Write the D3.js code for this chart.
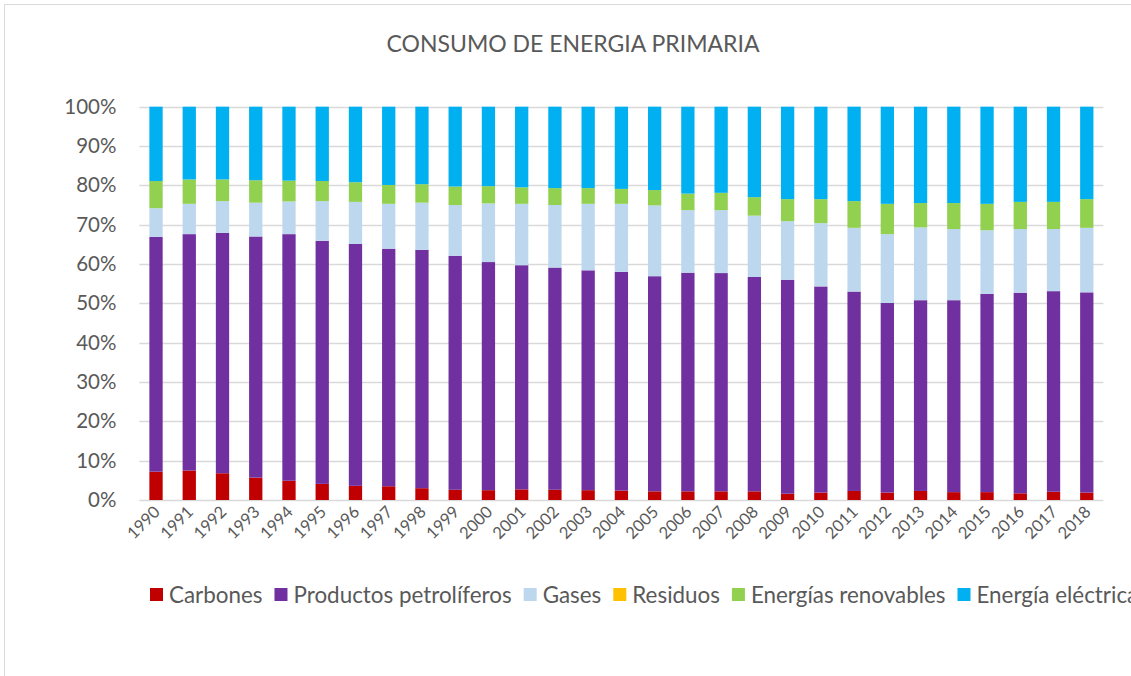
<!DOCTYPE html>
<html>
<head>
<meta charset="utf-8">
<script src="https://cdn.jsdelivr.net/npm/d3@7"></script>
<style>
  html, body { margin: 0; padding: 0; background: #fff; overflow: hidden; }
  svg { display: block; }
  text { font-family: Lato, "Open Sans", sans-serif; fill: #595959; }
</style>
</head>
<body>
<svg id="chart" width="1131" height="676"></svg>
<script>
const years = ["1990","1991","1992","1993","1994","1995","1996","1997","1998","1999",
  "2000","2001","2002","2003","2004","2005","2006","2007","2008","2009",
  "2010","2011","2012","2013","2014","2015","2016","2017","2018"];

const seriesNames = ["Carbones","Productos petrolíferos","Gases","Residuos","Energías renovables","Energía eléctrica"];
const seriesColors = ["#C00000","#7030A0","#BDD7EE","#FFC000","#92D050","#00B0F0"];

const carbones = [7.2,7.5,6.8,5.7,4.9,4.1,3.6,3.5,3.0,2.6,2.5,2.7,2.6,2.5,2.4,2.2,2.2,2.2,2.2,1.6,1.9,2.3,1.9,2.3,2.0,2.0,1.7,2.1,1.9];
const petroliferos = [59.7,60.1,61.1,61.3,62.7,61.8,61.5,60.4,60.6,59.5,58.0,57.0,56.5,55.9,55.6,54.7,55.6,55.5,54.5,54.4,52.4,50.7,48.2,48.5,48.8,50.4,51.0,51.0,50.9];
const gases = [7.3,7.7,8.1,8.6,8.3,10.1,10.7,11.4,12.0,12.9,14.9,15.6,15.9,16.9,17.3,18.0,15.9,16.0,15.6,14.9,16.1,16.2,17.5,18.5,18.1,16.2,16.2,15.8,16.4];
const residuos = [0,0,0,0,0,0,0,0,0,0,0,0,0,0,0,0,0,0,0,0,0,0,0,0,0,0,0,0,0];
const renovables = [6.9,6.2,5.5,5.7,5.3,5.1,5.0,4.8,4.7,4.7,4.4,4.2,4.3,4.0,3.8,3.9,4.2,4.4,4.7,5.6,6.1,6.8,7.7,6.2,6.6,6.7,6.9,6.9,7.3];
const electrica = [18.9,18.5,18.5,18.7,18.8,18.9,19.2,19.9,19.7,20.3,20.2,20.5,20.7,20.7,20.9,21.2,22.1,21.9,23.0,23.5,23.5,24.0,24.7,24.5,24.5,24.7,24.2,24.2,23.5];

const yTicks = [0,10,20,30,40,50,60,70,80,90,100];
const title = "CONSUMO DE ENERGIA PRIMARIA";

const seriesValues = [carbones, petroliferos, gases, residuos, renovables, electrica];
const table = years.map((yr, i) => {
  const row = { year: yr };
  const total = d3.sum(seriesValues, s => s[i]);
  seriesNames.forEach((n, k) => row[n] = seriesValues[k][i] / total * 100);
  return row;
});

const svg = d3.select("#chart");

// chart frame
svg.append("rect")
  .attr("x", 4.5).attr("y", 4.5)
  .attr("width", 1140).attr("height", 690)
  .attr("fill", "#fff").attr("stroke", "#D9D9D9").attr("stroke-width", 1);

const plotLeft = 139.4, plotRight = 1103.4, plotTop = 106.7, plotBottom = 500;

const x = d3.scaleBand().domain(years).range([plotLeft, plotRight])
  .paddingInner(0.6).paddingOuter(0.3);
const y = d3.scaleLinear().domain([0, 100]).range([plotBottom, plotTop]);

// gridlines
svg.append("g").selectAll("line").data(yTicks).join("line")
  .attr("x1", plotLeft).attr("x2", plotRight)
  .attr("y1", d => Math.round(y(d)) + 0.5).attr("y2", d => Math.round(y(d)) + 0.5)
  .attr("stroke", "#D9D9D9").attr("stroke-width", 1.3);

// y axis labels
const yAxis = d3.axisLeft(y).tickValues(yTicks).tickFormat(d => d + "%").tickSize(0).tickPadding(23);
const yg = svg.append("g").attr("transform", `translate(${plotLeft},0)`).call(yAxis);
yg.select(".domain").remove();
yg.selectAll("text").style("font-family", "Lato, 'Open Sans', sans-serif")
  .style("font-size", "20.5px").attr("fill", "#595959");

// stacked bars
const stack = d3.stack().keys(seriesNames);
const layers = stack(table);
svg.append("g").selectAll("g").data(layers).join("g")
  .attr("fill", (d, i) => seriesColors[i])
  .selectAll("rect").data(d => d).join("rect")
  .attr("x", d => x(d.data.year))
  .attr("width", x.bandwidth())
  .attr("y", d => y(d[1]))
  .attr("height", d => Math.max(0, y(d[0]) - y(d[1])));

// x axis
const xAxis = d3.axisBottom(x).tickSize(0).tickPadding(0);
const xg = svg.append("g").attr("transform", `translate(0,${plotBottom})`).call(xAxis);
xg.select(".domain").remove();
xg.selectAll("text")
  .style("font-family", "Lato, 'Open Sans', sans-serif")
  .style("font-size", "16.5px").attr("fill", "#595959")
  .attr("text-anchor", "end")
  .attr("dy", null).attr("y", 0)
  .attr("transform", "translate(5,13) rotate(-45)");

// title
svg.append("text")
  .attr("x", 573).attr("y", 52)
  .attr("text-anchor", "middle")
  .style("font-size", "23px")
  .text(title);

// legend
const legend = svg.append("g").attr("transform", "translate(150,595)");
let lx = 0;
seriesNames.forEach((n, i) => {
  const g = legend.append("g").attr("transform", `translate(${lx},0)`);
  g.append("rect").attr("x", 0).attr("y", -7).attr("width", 13).attr("height", 13)
    .attr("fill", seriesColors[i]);
  const t = g.append("text").attr("x", 19).attr("y", 0).attr("dy", "0.35em")
    .style("font-size", "22.4px").text(n);
  const w = t.node().getComputedTextLength();
  lx += 19 + w + 12;
});
</script>
</body>
</html>
